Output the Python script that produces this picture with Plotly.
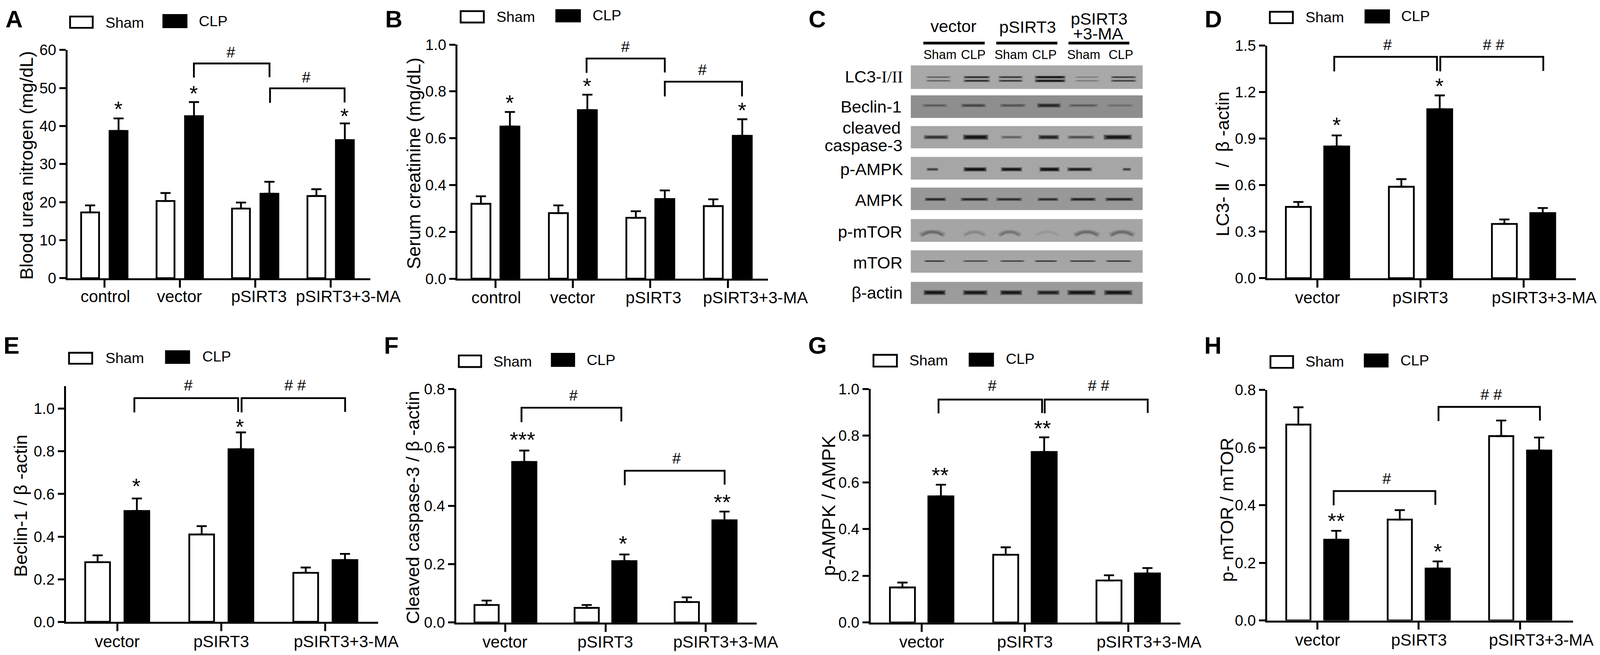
import plotly.graph_objects as go

# The page is photographed in a window 4096 wide and 1676 high with an 8 px page margin,
# so the figure fills that window and every reference pixel is mapped into it.
REF_W, REF_H = 4648, 1676
VIEW_W, VIEW_H = 4096, 1676
PAGE_M = 8
FIG_W, FIG_H = VIEW_W - 2 * PAGE_M, VIEW_H - 2 * PAGE_M
SX = VIEW_W / REF_W
FS = 0.90
FONT = "Liberation Sans"
LW = 4.6
NB = "\u00a0"


def xf(x):
    return (x * SX - PAGE_M) / FIG_W


def yf(y):
    return 1 - (y - PAGE_M) / FIG_H


# ---------- data ----------
cats4 = ["control", "vector", "pSIRT3", "pSIRT3+3-MA"]
cats3 = ["vector", "pSIRT3", "pSIRT3+3-MA"]

a_sham = [17.3, 20.3, 18.3, 21.6]
a_clp = [38.7, 42.6, 22.2, 36.3]
a_sham_err = [1.85, 2.1, 1.6, 1.8]
a_clp_err = [3.3, 3.7, 3.15, 4.4]

b_sham = [0.32, 0.28, 0.26, 0.31]
b_clp = [0.65, 0.72, 0.34, 0.61]
b_sham_err = [0.032, 0.033, 0.028, 0.029]
b_clp_err = [0.062, 0.066, 0.037, 0.071]

d_sham = [0.46, 0.59, 0.35]
d_clp = [0.85, 1.09, 0.42]
d_sham_err = [0.032, 0.049, 0.029]
d_clp_err = [0.071, 0.089, 0.033]

e_sham = [0.28, 0.41, 0.23]
e_clp = [0.52, 0.81, 0.29]
e_sham_err = [0.032, 0.039, 0.025]
e_clp_err = [0.059, 0.079, 0.029]

f_sham = [0.06, 0.05, 0.07]
f_clp = [0.55, 0.21, 0.35]
f_sham_err = [0.015, 0.01, 0.016]
f_clp_err = [0.039, 0.023, 0.03]

g_sham = [0.15, 0.29, 0.18]
g_clp = [0.54, 0.73, 0.21]
g_sham_err = [0.021, 0.032, 0.022]
g_clp_err = [0.05, 0.063, 0.023]

h_sham = [0.68, 0.35, 0.64]
h_clp = [0.28, 0.18, 0.59]
h_sham_err = [0.06, 0.033, 0.054]
h_clp_err = [0.031, 0.025, 0.045]

# blot: band strength per lane, one list per protein
lc3_bands = [0.35, 0.7, 0.6, 0.95, 0.2, 0.55]
beclin_bands = [0.25, 0.4, 0.3, 0.65, 0.25, 0.15]
caspase_bands = [0.6, 0.95, 0.3, 0.75, 0.4, 0.9]
pampk_bands = [0.5, 0.98, 0.9, 0.98, 0.8, 0.5]
ampk_bands = [0.7, 0.7, 0.65, 0.65, 0.75, 0.75]
pmtor_bands = [0.25, 0.12, 0.2, 0.05, 0.25, 0.25]
mtor_bands = [0.7, 0.6, 0.65, 0.7, 0.7, 0.7]
actin_bands = [0.9, 0.85, 0.85, 0.75, 0.9, 0.9]

# ---------- layout geometry (zoom-crop units, 1568 across each crop) ----------
PANELS = [
    dict(key="A", crop=(0, 0, 1200, 860), cats=cats4, sham=a_sham, clp=a_clp, se=a_sham_err, ce=a_clp_err,
         ax=256, end=1405, ytop=233, y0=1298, ymax=60, dtick=10, fmt="d", ticks=[396, 682, 968, 1255], off=54, bw=68,
         lab=[400, 681, 983, 1322], drop=45,
         ytitle="Blood urea nitrogen (mg/dL)", tx=100, ty=772, tfs=47,
         leg=((266, 77, 352, 130), (397, 105), (620, 70, 708, 127), (752, 98)),
         br=[[(736, 362), (736, 296), (1023, 296), (1023, 360)], [(1025, 480), (1025, 412), (1308, 412), (1308, 478)]],
         hs=[("#", 877, 243), ("#", 1162, 360)], st=[("*", 450, 497), ("*", 736, 424), ("*", 1308, 530)]),
    dict(key="B", crop=(1130, 0, 1200, 860), cats=cats4, sham=b_sham, clp=b_clp, se=b_sham_err, ce=b_clp_err,
         ax=260, end=1438, ytop=208, y0=1300, ymax=1.0, dtick=0.2, fmt=".1f", ticks=[404, 698, 992, 1286], off=55, bw=72,
         lab=[407, 697, 1004, 1391], drop=47,
         ytitle="Serum creatinine (mg/dL)", tx=95, ty=762, tfs=48,
         leg=((272, 52, 360, 105), (405, 78), (635, 47, 725, 100), (770, 72)),
         br=[[(750, 340), (750, 273), (1047, 273), (1047, 338)], [(1047, 450), (1047, 381), (1340, 381), (1340, 450)]],
         hs=[("#", 898, 217), ("#", 1190, 325)], st=[("*", 459, 468), ("*", 752, 390), ("*", 1340, 503)]),
    dict(key="D", crop=(3400, 0, 1248, 860), cats=cats3, sham=d_sham, clp=d_clp, se=d_sham_err, ce=d_clp_err,
         ax=353, end=1480, ytop=213, y0=1298, ymax=1.5, dtick=0.3, fmt=".1f", ticks=[537, 913, 1289], off=70, bw=91,
         lab=[537, 912, 1364], drop=48,
         ytitle=f"LC3-{NB}Ⅱ{NB}{NB}{NB}/{NB}{NB}β{NB}-actin", tx=190, ty=765, tfs=47,
         leg=((363, 55, 447, 108), (490, 80), (712, 48, 798, 105), (840, 75)),
         br=[[(598, 333), (598, 265), (973, 265), (973, 331)], [(985, 333), (985, 265), (1361, 265), (1361, 331)]],
         hs=[("#", 793, 207), ("# #", 1180, 207)], st=[("*", 607, 573), ("*", 982, 390)]),
    dict(key="E", crop=(0, 860, 1200, 816), cats=cats3, sham=e_sham, clp=e_clp, se=e_sham_err, ce=e_clp_err,
         ax=250, end=1435, ytop=245, y0=1405, ymax=1.107, dtick=0.2, fmt=".1f", ticks=[445, 840, 1235], off=74.5, bw=94,
         lab=[445, 840, 1314], drop=49,
         ytitle="Beclin-1 / β -actin", tx=78, ty=835, tfs=47,
         leg=((262, 82, 350, 136), (397, 108), (630, 74, 718, 132), (765, 100)),
         br=[[(510, 375), (510, 305), (904, 305), (904, 373)], [(917, 375), (917, 305), (1310, 305), (1310, 373)]],
         hs=[("#", 714, 240), ("# #", 1120, 240)], st=[("*", 518, 727), ("*", 911, 435)]),
    dict(key="F", crop=(1130, 860, 1200, 816), cats=cats3, sham=f_sham, clp=f_clp, se=f_sham_err, ce=f_clp_err,
         ax=255, end=1395, ytop=260, y0=1408, ymax=0.8, dtick=0.2, fmt=".1f", ticks=[442, 822, 1202], off=71.5, bw=92,
         lab=[440, 821, 1278], drop=48,
         ytitle="Cleaved caspase-3 / β -actin", tx=90, ty=842, tfs=47,
         leg=((265, 95, 350, 152), (393, 125), (618, 87, 703, 147), (747, 117)),
         br=[[(503, 423), (503, 352), (882, 352), (882, 420)], [(895, 733), (895, 662), (1274, 662), (1274, 730)]],
         hs=[("#", 700, 290), ("#", 1092, 600)], st=[("***", 506, 497), ("*", 888, 1008), ("**", 1265, 805)]),
    dict(key="G", crop=(2330, 860, 1200, 816), cats=cats3, sham=g_sham, clp=g_clp, se=g_sham_err, ce=g_clp_err,
         ax=260, end=1437, ytop=260, y0=1408, ymax=1.0, dtick=0.2, fmt=".1f", ticks=[454, 846, 1238], off=73, bw=95,
         lab=[454, 846, 1317], drop=48,
         ytitle="p-AMPK / AMPK", tx=100, ty=834, tfs=49,
         leg=((271, 92, 360, 150), (405, 120), (636, 86, 725, 146), (770, 112)),
         br=[[(518, 380), (518, 312), (911, 312), (911, 378)], [(921, 380), (921, 312), (1312, 312), (1312, 378)]],
         hs=[("#", 722, 243), ("# #", 1125, 243)], st=[("**", 523, 672), ("**", 912, 442)]),
    dict(key="H", crop=(3448, 860, 1200, 816), cats=cats3, sham=h_sham, clp=h_clp, se=h_sham_err, ce=h_clp_err,
         ax=304, end=1465, ytop=265, y0=1398, ymax=0.8, dtick=0.2, fmt=".1f", ticks=[495, 880, 1265], off=72, bw=92,
         lab=[496, 881, 1345], drop=48,
         ytitle="p- mTOR / mTOR", tx=152, ty=855, tfs=47,
         leg=((317, 98, 403, 156), (447, 125), (675, 90, 762, 150), (807, 120)),
         br=[[(557, 832), (557, 762), (943, 762), (943, 830)], [(955, 418), (955, 348), (1340, 348), (1340, 415)]],
         hs=[("#", 758, 700), ("# #", 1155, 287)], st=[("**", 567, 897), ("*", 952, 1047)]),
]
LETTERS = [("A", 41, 49), ("B", 1144, 49), ("C", 2374, 49), ("D", 3525, 49), ("E", 33, 884), ("F", 1137, 884), ("G", 2375, 884), ("H", 3523, 884)]

TICK_Y = 43
TICK_X = 47
LEG_FS = 42
STAR_FS = 62
HASH_FS = 44

fig = go.Figure()
layout = dict(height=FIG_H, margin=dict(l=0, r=0, t=0, b=0), paper_bgcolor="white", plot_bgcolor="white",
              showlegend=False, barmode="overlay", font=dict(family=FONT, color="black"))
shapes, annos = [], []


def conv(crop):
    cx, cy, cw, ch = crop
    return (lambda z: cx + z * cw / 1568.0), (lambda z: cy + z * ch / 1568.0)


def text(s, px, py, fs, xa="center", ya="middle", rot=0, bold=False):
    # rotated titles run along the vertical, which keeps the reference's scale
    size = fs if rot else fs * FS
    annos.append(dict(text=f"<b>{s}</b>" if bold else s, x=xf(px), y=yf(py), xref="paper", yref="paper", xanchor=xa, yanchor=ya,
                      showarrow=False, textangle=rot, font=dict(size=size, color="black", family=FONT)))


def pline(pts, width):
    path = "M" + " L".join(f"{xf(x):.6f},{yf(y):.6f}" for x, y in pts)
    shapes.append(dict(type="path", path=path, xref="paper", yref="paper", line=dict(color="black", width=width)))


def rect(x0, y0, x1, y1, fill, lw=LW, layer="above"):
    shapes.append(dict(type="rect", xref="paper", yref="paper", layer=layer, x0=xf(x0), x1=xf(x1), y0=yf(y0), y1=yf(y1),
                       fillcolor=fill, line=dict(color="black", width=lw)))


for i, p in enumerate(PANELS):
    n = i + 1
    lab_n = 20 + n
    fx, fy = conv(p["crop"])
    ax, end = fx(p["ax"]), fx(p["end"])
    ytop, y0 = fy(p["ytop"]), fy(p["y0"])
    t = [fx(v) for v in p["ticks"]]
    sp = (t[-1] - t[0]) / (len(t) - 1)
    scale = p["crop"][2] / 1568.0
    off = p["off"] * scale / sp
    bw = p["bw"] * scale / sp
    xa, ya = f"x{n}", f"y{n}"
    for vals, errs, fill, sign, name in ((p["sham"], p["se"], "white", -1, "Sham"), (p["clp"], p["ce"], "black", 1, "CLP")):
        fig.add_trace(go.Bar(x=p["cats"], y=vals, name=name, width=bw, offset=sign * off - bw / 2, xaxis=xa, yaxis=ya,
                             marker=dict(color=fill, line=dict(color="black", width=LW)),
                             error_y=dict(type="data", symmetric=False, array=errs, arrayminus=[0] * len(errs),
                                          color="black", thickness=LW, width=13)))
    axis_common = dict(showgrid=False, zeroline=False, showline=True, linecolor="black", linewidth=LW,
                       ticks="outside", tickwidth=LW, tickcolor="black", fixedrange=True, automargin=False)
    layout[f"xaxis{n}"] = dict(axis_common, domain=[xf(ax), xf(end)], anchor=ya, type="category", ticklen=19,
                               range=[-(t[0] - ax) / sp, (end - t[0]) / sp], tickmode="array", tickvals=p["cats"], showticklabels=False)
    # the reference centres its category labels off the tick marks: a line-free overlay axis carries them
    lab_x = [fx(v) for v in p["lab"]]
    fig.add_trace(go.Scatter(x=lab_x, y=[0] * len(lab_x), mode="markers", marker=dict(opacity=0, size=1), xaxis=f"x{lab_n}", yaxis=ya, hoverinfo="skip"))
    layout[f"xaxis{lab_n}"] = dict(overlaying=xa, anchor=ya, side="bottom", range=[ax, end], tickmode="array", tickvals=lab_x, ticktext=p["cats"],
                                   showgrid=False, zeroline=False, showline=False, ticks="", fixedrange=True, automargin=False, tickangle=0,
                                   tickfont=dict(size=TICK_X * FS), ticklabelstandoff=p["drop"] - 27)
    layout[f"yaxis{n}"] = dict(axis_common, domain=[yf(y0), yf(ytop)], anchor=xa, range=[0, p["ymax"]], tick0=0, dtick=p["dtick"], ticklen=16,
                               tickformat=p["fmt"], tickfont=dict(size=TICK_Y * FS))
    text(p["ytitle"], fx(p["tx"]), fy(p["ty"]), p["tfs"], rot=-90)
    sbox, stxt, cbox, ctxt = p["leg"]
    rect(fx(sbox[0]), fy(sbox[1]), fx(sbox[2]), fy(sbox[3]), "white")
    rect(fx(cbox[0]), fy(cbox[1]), fx(cbox[2]), fy(cbox[3]), "black")
    text("Sham", fx(stxt[0]), fy(stxt[1]), LEG_FS, xa="left")
    text("CLP", fx(ctxt[0]), fy(ctxt[1]), LEG_FS, xa="left")
    for br in p["br"]:
        pline([(fx(a), fy(b)) for a, b in br], LW)
    for s, a, b in p["hs"]:
        text(s, fx(a), fy(b), HASH_FS)
    for s, a, b in p["st"]:
        text(s, fx(a), fy(b) + 0.1 * STAR_FS * FS, STAR_FS)

for s, a, b in LETTERS:
    text(s, a, b, 68, bold=True)

# ---------- panel C: western blot drawn on a hidden axis in crop units ----------
fx, fy = conv((2300, 0, 1100, 860))
n = len(PANELS) + 1
layout[f"xaxis{n}"] = dict(domain=[xf(fx(400)), xf(fx(1500))], range=[400, 1500], visible=False, anchor=f"y{n}", fixedrange=True)
layout[f"yaxis{n}"] = dict(domain=[yf(fy(1500)), yf(fy(200))], range=[1500, 200], visible=False, anchor=f"x{n}", fixedrange=True)

strips = [(305, 415, 168), (445, 550, 142), (588, 692, 166), (732, 838, 166), (875, 980, 152), (1022, 1128, 165), (1168, 1272, 165), (1315, 1418, 155)]
for top, bot, g in strips:
    shapes.append(dict(type="rect", xref="paper", yref="paper", layer="below", x0=xf(fx(493)), x1=xf(fx(1453)), y0=yf(fy(top)), y1=yf(fy(bot)),
                       fillcolor=f"rgb({g},{g},{g})", line=dict(width=0)))

lanes_lc3 = [(555, 660), (710, 822), (855, 958), (1005, 1135), (1172, 1275), (1320, 1428)]
lanes_bec = [(540, 645), (700, 805), (860, 970), (1015, 1115), (1145, 1270), (1305, 1415)]
lanes_cas = [(545, 650), (708, 815), (865, 955), (1020, 1108), (1140, 1255), (1290, 1410)]
lanes_pam = [(558, 608), (710, 808), (865, 955), (1025, 1110), (1140, 1245), (1370, 1405)]
lanes_amp = [(550, 640), (698, 815), (845, 955), (1017, 1105), (1152, 1260), (1297, 1415)]
lanes_pmt = [(530, 635), (710, 805), (855, 950), (1005, 1110), (1168, 1275), (1315, 1420)]
lanes_mto = [(548, 635), (708, 815), (862, 965), (1005, 1100), (1150, 1260), (1300, 1408)]
lanes_act = [(545, 638), (708, 812), (862, 955), (1015, 1110), (1140, 1260), (1292, 1412)]

BAND_ROWS = [
    (lc3_bands, lanes_lc3, 360, 6, 0), (lc3_bands, lanes_lc3, 377, 6, 0),
    (beclin_bands, lanes_bec, 492, 11, 0),
    (caspase_bands, lanes_cas, 640, 11, 0),
    (pampk_bands, lanes_pam, 790, 9, 0),
    (ampk_bands, lanes_amp, 930, 8, 0),
    (pmtor_bands, lanes_pmt, 1085, 16, 5),
    (mtor_bands, lanes_mto, 1218, 4, 0),
    (actin_bands, lanes_act, 1365, 11, 0),
]
BAND_LAYERS = ((1.0, 1.2, 0.2), (0.95, 0.95, 0.3), (0.88, 0.7, 0.5), (0.75, 0.45, 0.6))
for vals, lanes, yc, th, arch in BAND_ROWS:
    for v, (x0, x1) in zip(vals, lanes):
        mid = (x0 + x1) / 2
        half = (x1 - x0) / 2
        for shrink, wid, alpha in BAND_LAYERS:
            xs = [mid - half * shrink, mid - half * 0.5 * shrink, mid, mid + half * 0.5 * shrink, mid + half * shrink]
            ys = [yc + arch * 2.5, yc, yc - arch * 0.6, yc, yc + arch * 2.5]
            fig.add_trace(go.Scatter(x=xs, y=ys, mode="lines", xaxis=f"x{n}", yaxis=f"y{n}", hoverinfo="skip",
                                     line=dict(color=f"rgba(0,0,0,{alpha * v:.3f})", width=max(1, th * wid * (0.55 + 0.6 * v)), shape="spline")))

SIDE = [("LC3-<span style=\"font-family:'Liberation Serif'\">I/II</span>", 465, 357), ("Beclin-1", 458, 497), ("cleaved", 455, 597), ("caspase-3", 462, 678),
        ("p-AMPK", 465, 790), ("AMPK", 465, 933), ("p-mTOR", 462, 1082), ("mTOR", 462, 1225), ("β-actin", 462, 1365)]
for s, a, b in SIDE:
    text(s, fx(a), fy(b), 48, xa="right")
for s, a, b in [("vector", 670, 122), ("pSIRT3", 977, 125), ("pSIRT3", 1273, 88), ("+3-MA", 1270, 157)]:
    text(s, fx(a), fy(b), 48)
for x0, x1 in [(545, 799), (847, 1100), (1146, 1398)]:
    pline([(fx(x0), fy(201)), (fx(x1), fy(201))], 7)
for s, a in [("Sham", 614), ("CLP", 751), ("Sham", 908), ("CLP", 1046), ("Sham", 1209), ("CLP", 1363)]:
    text(s, fx(a), fy(256), 36)

layout["shapes"] = shapes
layout["annotations"] = annos
fig.update_layout(**layout)
fig.write_html("out.html")
